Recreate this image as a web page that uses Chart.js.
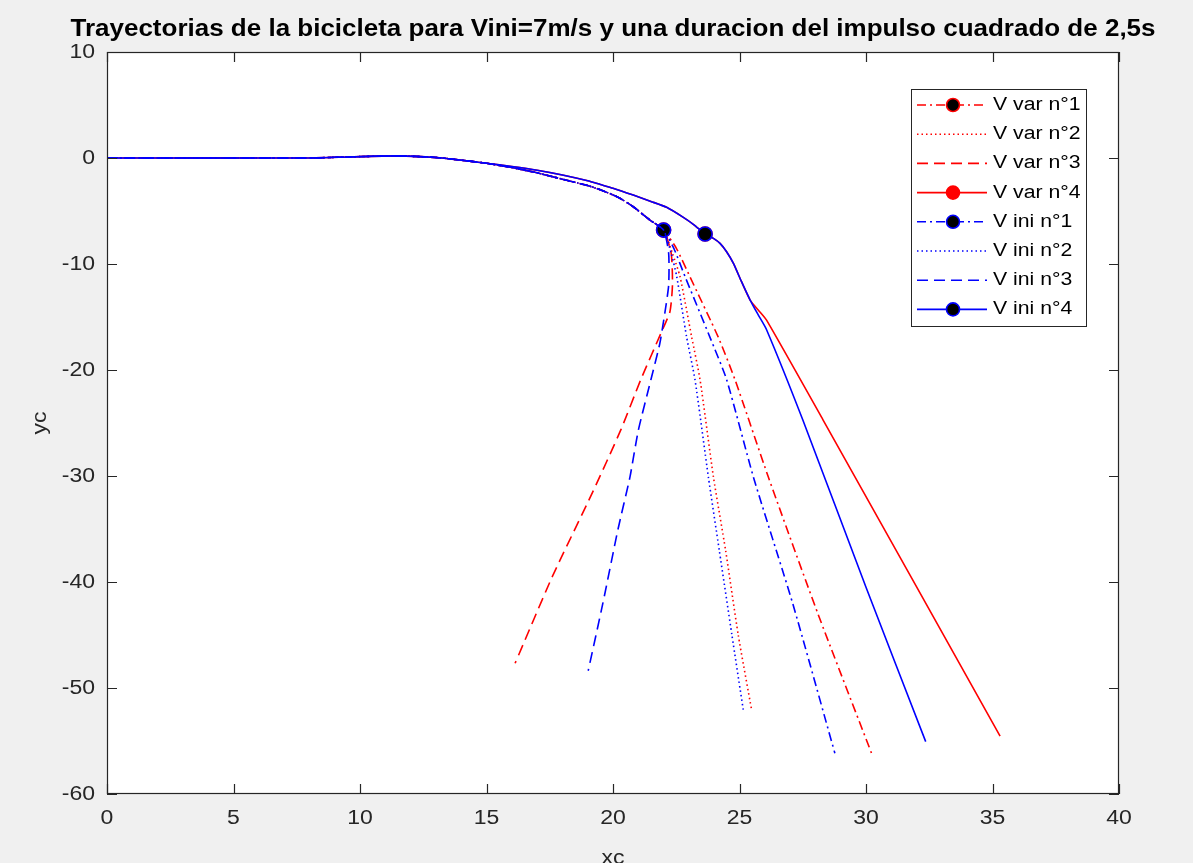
<!DOCTYPE html>
<html>
<head>
<meta charset="utf-8">
<script src="https://cdn.jsdelivr.net/npm/chart.js@4/dist/chart.umd.min.js"></script>
<style>
html, body { margin: 0; padding: 0; background: #f0f0f0; }
</style>
</head>
<body>
<canvas id="chart" width="1193" height="863"></canvas>
<script>
// ---- data (xc, yc in m) ----
const titleText = 'Trayectorias de la bicicleta para Vini=7m/s y una duracion del impulso cuadrado de 2,5s';
const seriesNames = ['V var n°1', 'V var n°2', 'V var n°3', 'V var n°4', 'V ini n°1', 'V ini n°2', 'V ini n°3', 'V ini n°4'];
const xTicks = [0, 5, 10, 15, 20, 25, 30, 35, 40];
const yTicks = [10, 0, -10, -20, -30, -40, -50, -60];

// common straight run + small bump
const xStart = [0, 4, 8, 9.5, 11.5, 13, 14, 15];
const yStart = [0, 0, 0, 0.1, 0.2, 0.05, -0.2, -0.5];
// inner branch followed by n°1..n°3 until the marker
const xLow = [16, 17, 18, 19, 19.5, 20.2, 20.8, 21.46, 22.0];
const yLow = [-0.9, -1.4, -2.0, -2.6, -3.0, -3.7, -4.6, -5.85, -6.8];
// outer branch followed by n°4 (marker at 23.64, -7.17)
const xHigh = [16, 17, 18, 19, 19.5, 20, 20.8, 21.5, 22.12, 22.78, 23.2, 23.64, 23.97, 24.23, 24.49, 24.76, 25.08, 25.42];
const yHigh = [-0.8, -1.15, -1.6, -2.15, -2.5, -2.85, -3.5, -4.1, -4.65, -5.6, -6.3, -7.17, -7.58, -8.05, -8.84, -9.94, -11.67, -13.4];
const markHigh = 11;

const xVar1 = [22.5, 23.04, 24.16, 24.82, 26.14, 28.1, 30.22];
const yVar1 = [-8.5, -11.2, -16.9, -20.9, -30.1, -43, -56.16];
const xVar2 = [22.35, 22.65, 23.11, 23.44, 23.97, 24.45, 24.95, 25.48];
const yVar2 = [-9, -11.2, -16.9, -20.9, -30.1, -37, -45, -52.08];
const xVar3 = [22.3, 22.35, 22.25, 21.9, 21.1, 20.3, 19.2, 17.6, 16.13];
const yVar3 = [-9, -12, -14.5, -16.5, -20.9, -25.7, -31.5, -39.5, -47.67];
const xVar4 = [25.74, 26.07, 28.3, 35.3];
const yVar4 = [-14.34, -15.3, -24.7, -54.53];

const xIni1 = [22.4, 22.85, 23.83, 24.49, 25.55, 27.1, 28.77];
const yIni1 = [-8.5, -11.2, -16.9, -20.9, -30.1, -42, -56.16];
const xIni2 = [22.3, 22.52, 22.91, 23.24, 23.77, 24.2, 24.7, 25.15];
const yIni2 = [-9, -11.2, -16.9, -20.9, -30.1, -37, -45, -52.08];
const xIni3 = [22.2, 22.2, 22.05, 21.85, 21.5, 21.0, 20.67, 20.2, 19.6, 19.02];
const yIni3 = [-9, -12, -14.6, -17.5, -20.9, -25.7, -30.1, -35, -42, -48.37];
const xIni4 = [25.74, 26.07, 27.5, 30, 32.36];
const yIni4 = [-14.8, -16.2, -24.7, -40.5, -55.06];

// ---- styles ----
const RED = '#ff0000', BLUE = '#0000ff';
const DASHDOT = [9, 4, 2, 4], DOT = [1.5, 3], DASH = [11, 6], SOLID = [];
const seriesColors = [RED, RED, RED, RED, BLUE, BLUE, BLUE, BLUE];
const seriesDash = [DASHDOT, DOT, DASH, SOLID, DASHDOT, DOT, DASH, SOLID];
const markerFace = ['#000000', null, null, RED, '#000000', null, null, '#000000'];

function build(xs, ys) {
    return xs.map((x, i) => ({ x: x, y: ys[i] }));
}
const lowPts = build(xStart.concat(xLow), yStart.concat(yLow));
const highPts = build(xStart.concat(xHigh), yStart.concat(yHigh));
const tails = [
    [xVar1, yVar1], [xVar2, yVar2], [xVar3, yVar3], [xVar4, yVar4],
    [xIni1, yIni1], [xIni2, yIni2], [xIni3, yIni3], [xIni4, yIni4]
];

const datasets = seriesNames.map((name, i) => {
    const isFour = (i % 4) === 3;
    const head = isFour ? highPts : lowPts;
    const pts = head.concat(build(tails[i][0], tails[i][1]));
    // marker sits at the end of the impulse
    const markIdx = markerFace[i] ? (isFour ? xStart.length + markHigh : head.length - 1) : -1;
    return {
        label: name,
        data: pts,
        showLine: true,
        borderColor: seriesColors[i],
        borderWidth: 1.6,
        borderDash: seriesDash[i],
        fill: false,
        tension: 0.2,
        pointRadius: ctx => ctx.dataIndex === markIdx ? 7 : 0,
        pointBackgroundColor: markerFace[i] || seriesColors[i],
        pointBorderColor: seriesColors[i],
        pointBorderWidth: 1.6,
        order: seriesNames.length - 1 - i // later series drawn on top, like MATLAB
    };
});

function txt(ctx, s, x, y, font, align, base, color, sx, rot) {
    ctx.save();
    ctx.translate(x, y);
    if (rot) ctx.rotate(rot);
    ctx.scale(sx, 1);
    ctx.font = font;
    ctx.textAlign = align;
    ctx.textBaseline = base;
    ctx.fillStyle = color;
    ctx.fillText(s, 0, 0);
    ctx.restore();
}

const FONT = '"Liberation Sans", Arial, Helvetica, sans-serif';
const AXC = '#262626';

const matlabFrame = {
    id: 'matlabFrame',
    beforeDraw(chart) {
        const ctx = chart.ctx, a = chart.chartArea;
        ctx.save();
        ctx.fillStyle = '#f0f0f0';
        ctx.fillRect(0, 0, chart.width, chart.height);
        ctx.fillStyle = '#ffffff';
        ctx.fillRect(a.left, a.top, a.right - a.left, a.bottom - a.top);
        ctx.restore();
    },
    afterDraw(chart) {
        const ctx = chart.ctx, a = chart.chartArea;
        const xs = chart.scales.x, ys = chart.scales.y;
        ctx.save();
        ctx.strokeStyle = AXC;
        ctx.lineWidth = 1.2;
        ctx.strokeRect(a.left + 0.5, a.top + 0.5, a.right - a.left - 1, a.bottom - a.top - 1);
        const tl = 10;
        ctx.beginPath();
        xTicks.forEach(v => {
            const px = Math.round(xs.getPixelForValue(v)) + 0.5;
            ctx.moveTo(px, a.bottom); ctx.lineTo(px, a.bottom - tl);
            ctx.moveTo(px, a.top); ctx.lineTo(px, a.top + tl);
        });
        yTicks.forEach(v => {
            const py = Math.round(ys.getPixelForValue(v)) + 0.5;
            ctx.moveTo(a.left, py); ctx.lineTo(a.left + tl, py);
            ctx.moveTo(a.right, py); ctx.lineTo(a.right - tl, py);
        });
        ctx.stroke();
        ctx.restore();

        const tickFont = '20px ' + FONT;
        xTicks.forEach(v => {
            txt(ctx, String(v), xs.getPixelForValue(v), a.bottom + 14, tickFont, 'center', 'top', AXC, 1.15);
        });
        yTicks.forEach(v => {
            txt(ctx, String(v), a.left - 12, ys.getPixelForValue(v), tickFont, 'right', 'middle', AXC, 1.15);
        });
        txt(ctx, 'xc', (a.left + a.right) / 2, 858, tickFont, 'center', 'middle', AXC, 1.15);
        txt(ctx, 'yc', 40, (a.top + a.bottom) / 2, tickFont, 'center', 'middle', AXC, 1.15, -Math.PI / 2);
        txt(ctx, titleText, (a.left + a.right) / 2, 30, 'bold 23px ' + FONT, 'center', 'middle', '#000000', 1.13);

        // legend box
        const lx = 911, ly = 89, lw = 175, lh = 237;
        ctx.save();
        ctx.fillStyle = '#ffffff';
        ctx.fillRect(lx, ly, lw, lh);
        ctx.strokeStyle = AXC;
        ctx.lineWidth = 1;
        ctx.strokeRect(lx + 0.5, ly + 0.5, lw, lh);
        chart.data.datasets.forEach((ds, i) => {
            const y = 105 + i * 29.2;
            ctx.beginPath();
            ctx.setLineDash(ds.borderDash);
            ctx.strokeStyle = ds.borderColor;
            ctx.lineWidth = 1.6;
            ctx.moveTo(917, y); ctx.lineTo(987, y);
            ctx.stroke();
            ctx.setLineDash([]);
            if (markerFace[i]) {
                ctx.beginPath();
                ctx.arc(953, y, 6.5, 0, Math.PI * 2);
                ctx.fillStyle = ds.pointBackgroundColor;
                ctx.fill();
                ctx.lineWidth = 1.6;
                ctx.strokeStyle = ds.pointBorderColor;
                ctx.stroke();
            }
            txt(ctx, ds.label, 993, y, '18px ' + FONT, 'left', 'middle', '#000000', 1.18);
        });
        ctx.restore();
    }
};

new Chart(document.getElementById('chart'), {
    type: 'scatter',
    data: { datasets: datasets },
    options: {
        responsive: false,
        animation: false,
        events: [],
        layout: { padding: { left: 0, right: 74, top: 52, bottom: 0 } },
        plugins: { legend: { display: false }, title: { display: false }, tooltip: { enabled: false } },
        scales: {
            x: {
                type: 'linear', min: 0, max: 40,
                ticks: { stepSize: 5, display: false },
                grid: { display: false }, border: { display: false },
                afterFit: s => { s.height = 69; }
            },
            y: {
                type: 'linear', min: -60, max: 10,
                ticks: { stepSize: 10, display: false },
                grid: { display: false }, border: { display: false },
                afterFit: s => { s.width = 107; }
            }
        }
    },
    plugins: [matlabFrame]
});
</script>
</body>
</html>
